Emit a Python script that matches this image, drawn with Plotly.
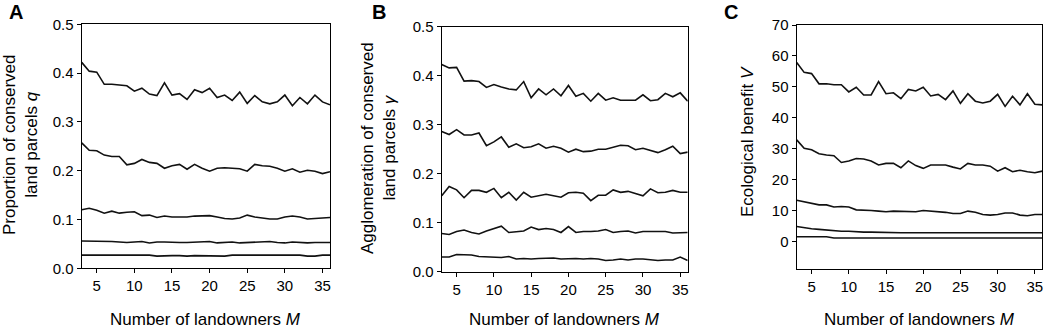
import plotly.graph_objects as go

M = list(range(3, 37))

# Panel A: proportion of conserved land parcels q
A1 = [0.422, 0.404, 0.402, 0.377, 0.377, 0.376, 0.374, 0.363, 0.369, 0.357, 0.354, 0.380,
      0.355, 0.358, 0.346, 0.366, 0.360, 0.369, 0.350, 0.355, 0.344, 0.361, 0.338, 0.354,
      0.341, 0.337, 0.341, 0.355, 0.333, 0.350, 0.337, 0.355, 0.341, 0.335]
A2 = [0.257, 0.242, 0.241, 0.232, 0.229, 0.229, 0.212, 0.215, 0.223, 0.217, 0.215, 0.205,
      0.210, 0.213, 0.203, 0.213, 0.205, 0.199, 0.205, 0.206, 0.205, 0.204, 0.199, 0.213,
      0.210, 0.209, 0.205, 0.199, 0.204, 0.197, 0.201, 0.199, 0.194, 0.198]
A3 = [0.120, 0.123, 0.119, 0.113, 0.117, 0.113, 0.115, 0.116, 0.108, 0.109, 0.104, 0.107,
      0.105, 0.105, 0.105, 0.107, 0.108, 0.108, 0.105, 0.102, 0.101, 0.103, 0.109, 0.105,
      0.103, 0.101, 0.101, 0.105, 0.107, 0.105, 0.101, 0.102, 0.103, 0.104]
A4 = [0.056, 0.056, 0.056, 0.056, 0.055, 0.054, 0.053, 0.054, 0.055, 0.052, 0.054, 0.054,
      0.053, 0.053, 0.053, 0.054, 0.054, 0.055, 0.052, 0.053, 0.054, 0.052, 0.053, 0.053,
      0.054, 0.055, 0.053, 0.052, 0.054, 0.053, 0.052, 0.053, 0.053, 0.053]
A5 = [0.027, 0.027, 0.027, 0.027, 0.027, 0.027, 0.027, 0.027, 0.027, 0.027, 0.025, 0.026,
      0.026, 0.026, 0.025, 0.026, 0.026, 0.026, 0.025, 0.025, 0.027, 0.027, 0.027, 0.027,
      0.027, 0.027, 0.027, 0.027, 0.027, 0.027, 0.025, 0.025, 0.027, 0.027]

# Panel B: agglomeration of conserved land parcels gamma
B1 = [0.423, 0.416, 0.417, 0.389, 0.390, 0.388, 0.376, 0.382, 0.377, 0.373, 0.371, 0.388,
      0.355, 0.373, 0.361, 0.373, 0.359, 0.380, 0.358, 0.364, 0.348, 0.364, 0.350, 0.355,
      0.350, 0.350, 0.350, 0.361, 0.349, 0.351, 0.364, 0.357, 0.365, 0.348]
B2 = [0.286, 0.280, 0.290, 0.279, 0.279, 0.283, 0.257, 0.265, 0.275, 0.254, 0.261, 0.253,
      0.255, 0.261, 0.252, 0.256, 0.252, 0.244, 0.250, 0.245, 0.246, 0.250, 0.250, 0.254,
      0.258, 0.257, 0.249, 0.252, 0.247, 0.243, 0.249, 0.256, 0.241, 0.244]
B3 = [0.155, 0.174, 0.167, 0.151, 0.166, 0.166, 0.162, 0.170, 0.151, 0.162, 0.146, 0.162,
      0.152, 0.155, 0.158, 0.155, 0.152, 0.161, 0.162, 0.160, 0.145, 0.156, 0.156, 0.167,
      0.162, 0.164, 0.160, 0.155, 0.169, 0.161, 0.162, 0.166, 0.162, 0.162]
B4 = [0.078, 0.076, 0.082, 0.085, 0.080, 0.077, 0.083, 0.088, 0.093, 0.080, 0.082, 0.083,
      0.091, 0.086, 0.088, 0.086, 0.080, 0.092, 0.080, 0.082, 0.082, 0.083, 0.086, 0.080,
      0.082, 0.083, 0.079, 0.082, 0.082, 0.082, 0.082, 0.079, 0.080, 0.080]
B5 = [0.030, 0.030, 0.035, 0.034, 0.034, 0.031, 0.030, 0.030, 0.029, 0.031, 0.026, 0.027,
      0.026, 0.027, 0.027, 0.028, 0.026, 0.027, 0.027, 0.026, 0.027, 0.026, 0.023, 0.024,
      0.026, 0.024, 0.026, 0.026, 0.024, 0.023, 0.024, 0.024, 0.030, 0.023]

# Panel C: ecological benefit V
C1 = [57.9, 54.7, 54.3, 51.0, 51.0, 50.7, 50.7, 48.4, 49.9, 47.4, 47.4, 51.7,
      47.8, 48.1, 46.2, 49.2, 48.7, 49.9, 47.1, 47.6, 45.9, 48.7, 44.7, 47.8,
      45.4, 44.8, 45.4, 47.6, 43.7, 47.0, 44.2, 47.8, 44.4, 44.2]
C2 = [32.9, 30.2, 29.7, 28.4, 28.0, 27.8, 25.6, 26.1, 26.9, 26.7, 26.1, 24.8,
      25.3, 25.3, 23.9, 26.1, 24.6, 23.7, 24.8, 24.8, 24.8, 24.1, 23.5, 25.3,
      24.8, 24.8, 24.4, 22.8, 23.9, 22.6, 23.1, 22.6, 22.3, 22.8]
C3 = [13.4, 12.9, 12.5, 11.9, 11.9, 11.2, 11.4, 11.2, 10.3, 10.3, 10.1, 9.9,
      9.7, 9.9, 9.9, 9.9, 9.7, 10.1, 9.9, 9.9, 9.5, 9.1, 9.1, 9.9,
      9.5, 8.8, 8.6, 8.8, 9.3, 9.3, 8.6, 8.4, 8.8, 8.8]
C4 = [4.9, 4.5, 4.2, 4.0, 3.8, 3.4, 3.4, 3.4, 3.2, 3.1, 3.1, 3.0,
      2.9, 2.9, 2.9, 2.9, 2.9, 2.9, 2.9, 2.8, 2.9, 2.9, 2.8, 2.9,
      2.9, 2.9, 2.9, 2.8, 2.9, 2.9, 2.9, 2.9, 2.9, 2.9]
C5 = [1.6, 1.6, 1.6, 1.6, 1.6, 1.2, 1.2, 1.2, 1.2, 1.2, 1.2, 1.2,
      1.2, 1.2, 1.2, 1.2, 1.2, 1.2, 1.2, 1.2, 1.2, 1.2, 1.2, 1.2,
      1.2, 1.2, 1.2, 1.2, 1.2, 1.2, 1.2, 1.2, 1.2, 1.2]

x_ticks = [5, 10, 15, 20, 25, 30, 35]
yA_ticks = [0.0, 0.1, 0.2, 0.3, 0.4, 0.5]
yA_labels = ["0.0", "0.1", "0.2", "0.3", "0.4", "0.5"]
yC_ticks = [0, 10, 20, 30, 40, 50, 60, 70]

FONT = "Liberation Sans, Arial, sans-serif"
W, H = 1045, 330

fig = go.Figure()
panels = [
    ("x", "y", [A1, A2, A3, A4, A5]),
    ("x2", "y2", [B1, B2, B3, B4, B5]),
    ("x3", "y3", [C1, C2, C3, C4, C5]),
]
for xa, ya, series in panels:
    for s in series:
        fig.add_trace(go.Scatter(x=M, y=s, mode="lines", xaxis=xa, yaxis=ya,
                                 line=dict(color="#111111", width=1.6),
                                 showlegend=False, hoverinfo="skip"))

def px_x(a, b):
    return [a / W, b / W]

def px_y(top, bottom):
    return [(H - bottom) / H, (H - top) / H]

common_x = dict(range=[3, 36], tickvals=x_ticks, ticks="outside", ticklen=4,
                tickwidth=1.2, tickcolor="black", showline=True, linecolor="black",
                linewidth=1.3, mirror=True, showgrid=False, zeroline=False,
                automargin=False,
                tickfont=dict(family=FONT, size=15, color="black"))
common_y = dict(ticks="outside", ticklen=4, tickwidth=1.2, tickcolor="black",
                showline=True, linecolor="black", linewidth=1.3, mirror=True,
                showgrid=False, zeroline=False, automargin=False,
                tickfont=dict(family=FONT, size=15, color="black"))

fig.update_layout(
    template="none",
    width=W, height=H, margin=dict(l=0, r=0, t=0, b=0, pad=0, autoexpand=False),
    paper_bgcolor="white", plot_bgcolor="white",
    xaxis=dict(domain=px_x(81.7, 330), anchor="y", **common_x),
    yaxis=dict(domain=px_y(24.3, 268.3), anchor="x", range=[0, 0.5],
               tickvals=yA_ticks, ticktext=yA_labels, **common_y),
    xaxis2=dict(domain=px_x(441.7, 687.7), anchor="y2", **common_x),
    yaxis2=dict(domain=px_y(26.7, 271.7), anchor="x2", range=[0, 0.5],
                tickvals=yA_ticks, ticktext=yA_labels, **common_y),
    xaxis3=dict(domain=px_x(796.7, 1042.3), anchor="y3", **common_x),
    yaxis3=dict(domain=px_y(25, 269.3), anchor="x3", range=[-8.9, 70],
                tickvals=yC_ticks, **common_y),
)

ann = []
def add_text(text, x, y, size, angle=0, bold=False):
    ann.append(dict(text=("<b>%s</b>" % text) if bold else text,
                    x=x / W, y=(H - y) / H, xref="paper", yref="paper",
                    xanchor="center", yanchor="middle", showarrow=False,
                    textangle=angle, font=dict(family=FONT, size=size, color="black")))

add_text("A", 16, 12.5, 20, bold=True)
add_text("B", 379, 12.5, 20, bold=True)
add_text("C", 731, 12.5, 20, bold=True)

add_text("Number of landowners <i>M</i>", (81.7 + 330) / 2, 319, 17)
add_text("Number of landowners <i>M</i>", (441.7 + 687.7) / 2, 319, 17)
add_text("Number of landowners <i>M</i>", (796.7 + 1042.3) / 2, 319, 17)

add_text("Proportion of conserved<br>land parcels <i>q</i>", 20, 145, 17, angle=-90)
add_text("Agglomeration of conserved<br>land parcels <i>γ</i>", 378, 148, 17, angle=-90)
add_text("Ecological benefit <i>V</i>", 747, 142, 17, angle=-90)

fig.update_layout(annotations=ann)
fig.write_html("out.html", config={"responsive": False, "displayModeBar": False},
               post_script="document.body.style.margin='0px';document.body.style.overflow='hidden';")
